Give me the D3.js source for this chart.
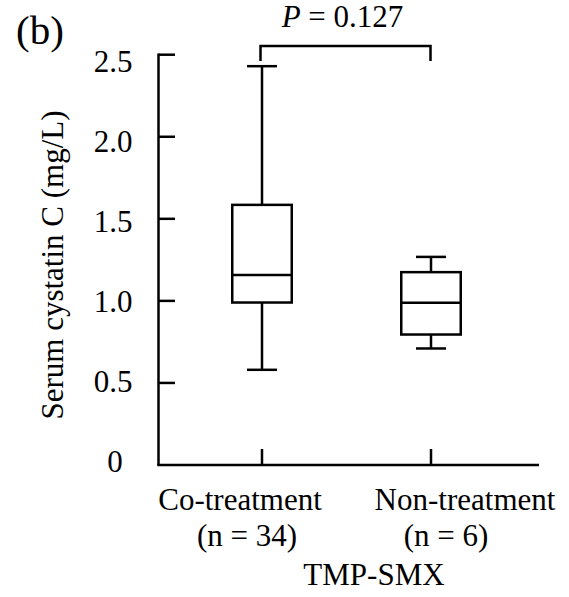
<!DOCTYPE html>
<html>
<head>
<meta charset="utf-8">
<script src="https://cdn.jsdelivr.net/npm/d3@7/dist/d3.min.js"></script>
<style>
  html, body { margin: 0; padding: 0; background: #fff; }
  svg { display: block; }
  text { font-family: "Liberation Serif", "Times New Roman", serif; fill: #000; }
</style>
</head>
<body>
<svg id="chart" width="569" height="597"></svg>
<script>
// Groups and their five-number summaries (serum cystatin C, mg/L)
const groups = ["Co-treatment", "Non-treatment"];
const groupN = ["(n = 34)", "(n = 6)"];
const whiskerLow = [0.58, 0.71];
const q1 = [0.99, 0.795];
const median = [1.157, 0.988];
const q3 = [1.585, 1.175];
const whiskerHigh = [2.43, 1.268];
const yTicks = [0, 0.5, 1.0, 1.5, 2.0, 2.5];
const yTickLabels = ["0", "0.5", "1.0", "1.5", "2.0", "2.5"];
const pLabel = "0.127";

const svg = d3.select("#chart");
const stroke = 2.5;
const fs = 31;

const y = d3.scaleLinear().domain([0, 2.5]).range([465, 54.7]);
const x = d3.scalePoint().domain(groups).range([262, 431]);
// tick labels sit on a slightly tighter spacing than the ticks
const yLabel = d3.scaleLinear().domain([0, 2.5]).range([472, 72]);

const boxW = 59.5, capW = 30;

// y axis line and inward ticks
svg.append("line")
  .attr("x1", 158.5).attr("x2", 158.5)
  .attr("y1", y(2.5) - 1.25).attr("y2", y(0))
  .attr("stroke", "#000").attr("stroke-width", stroke);
svg.selectAll(".ytick").data(yTicks.filter(d => d > 0)).join("line")
  .attr("x1", 158.5).attr("x2", 175)
  .attr("y1", d => y(d)).attr("y2", d => y(d))
  .attr("stroke", "#000").attr("stroke-width", stroke);
svg.selectAll(".ylab").data(yTicks).join("text")
  .attr("x", (d, i) => i === 0 ? 115 : 113)
  .attr("y", d => yLabel(d))
  .attr("text-anchor", "middle")
  .attr("font-size", fs)
  .text((d, i) => yTickLabels[i]);

// x axis line and group ticks
svg.append("line")
  .attr("x1", 157.25).attr("x2", 539)
  .attr("y1", y(0)).attr("y2", y(0))
  .attr("stroke", "#000").attr("stroke-width", stroke);
svg.selectAll(".xtick").data(groups).join("line")
  .attr("x1", d => x(d)).attr("x2", d => x(d))
  .attr("y1", y(0)).attr("y2", y(0) - 16)
  .attr("stroke", "#000").attr("stroke-width", stroke);

// box plots
const g = svg.append("g").attr("fill", "none").attr("stroke", "#000").attr("stroke-width", stroke);
groups.forEach((grp, i) => {
  const cx = x(grp);
  // whiskers
  g.append("line").attr("x1", cx).attr("x2", cx).attr("y1", y(whiskerHigh[i])).attr("y2", y(q3[i]));
  g.append("line").attr("x1", cx).attr("x2", cx).attr("y1", y(q1[i])).attr("y2", y(whiskerLow[i]));
  g.append("line").attr("x1", cx - capW / 2).attr("x2", cx + capW / 2).attr("y1", y(whiskerHigh[i])).attr("y2", y(whiskerHigh[i]));
  g.append("line").attr("x1", cx - capW / 2).attr("x2", cx + capW / 2).attr("y1", y(whiskerLow[i])).attr("y2", y(whiskerLow[i]));
  // box
  g.append("rect")
    .attr("x", cx - boxW / 2).attr("width", boxW)
    .attr("y", y(q3[i])).attr("height", y(q1[i]) - y(q3[i]))
    .attr("fill", "#fff");
  // median
  g.append("line").attr("x1", cx - boxW / 2).attr("x2", cx + boxW / 2).attr("y1", y(median[i])).attr("y2", y(median[i]));
});

// significance bracket
const bTop = 46, bBot = 61;
svg.append("path")
  .attr("d", `M${x(groups[0]) - 1.5},${bBot}V${bTop}H${x(groups[1]) - 0.5}V${bBot}`)
  .attr("fill", "none").attr("stroke", "#000").attr("stroke-width", stroke);
const pText = svg.append("text")
  .attr("x", 342.5).attr("y", 27)
  .attr("text-anchor", "middle").attr("font-size", fs);
pText.append("tspan").attr("font-style", "italic").text("P");
pText.append("tspan").text(" = " + pLabel);

// category labels
const line1Dx = [-22, 34], line2Dx = [-15, 15];
svg.selectAll(".cat").data(groups).join("text")
  .attr("x", (d, i) => x(d) + line1Dx[i]).attr("y", 510)
  .attr("text-anchor", "middle").attr("font-size", fs)
  .text(d => d);
svg.selectAll(".catn").data(groupN).join("text")
  .attr("x", (d, i) => x(groups[i]) + line2Dx[i]).attr("y", 546)
  .attr("text-anchor", "middle").attr("font-size", fs)
  .text(d => d);
svg.append("text")
  .attr("x", 374).attr("y", 585)
  .attr("text-anchor", "middle").attr("font-size", fs)
  .text("TMP-SMX");

// y axis title
svg.append("text")
  .attr("transform", "translate(63,265) rotate(-90)")
  .attr("text-anchor", "middle").attr("font-size", fs)
  .text("Serum cystatin C (mg/L)");

// panel letter
svg.append("text")
  .attr("x", 40).attr("y", 44)
  .attr("text-anchor", "middle").attr("font-size", 41)
  .text("(b)");
</script>
</body>
</html>
